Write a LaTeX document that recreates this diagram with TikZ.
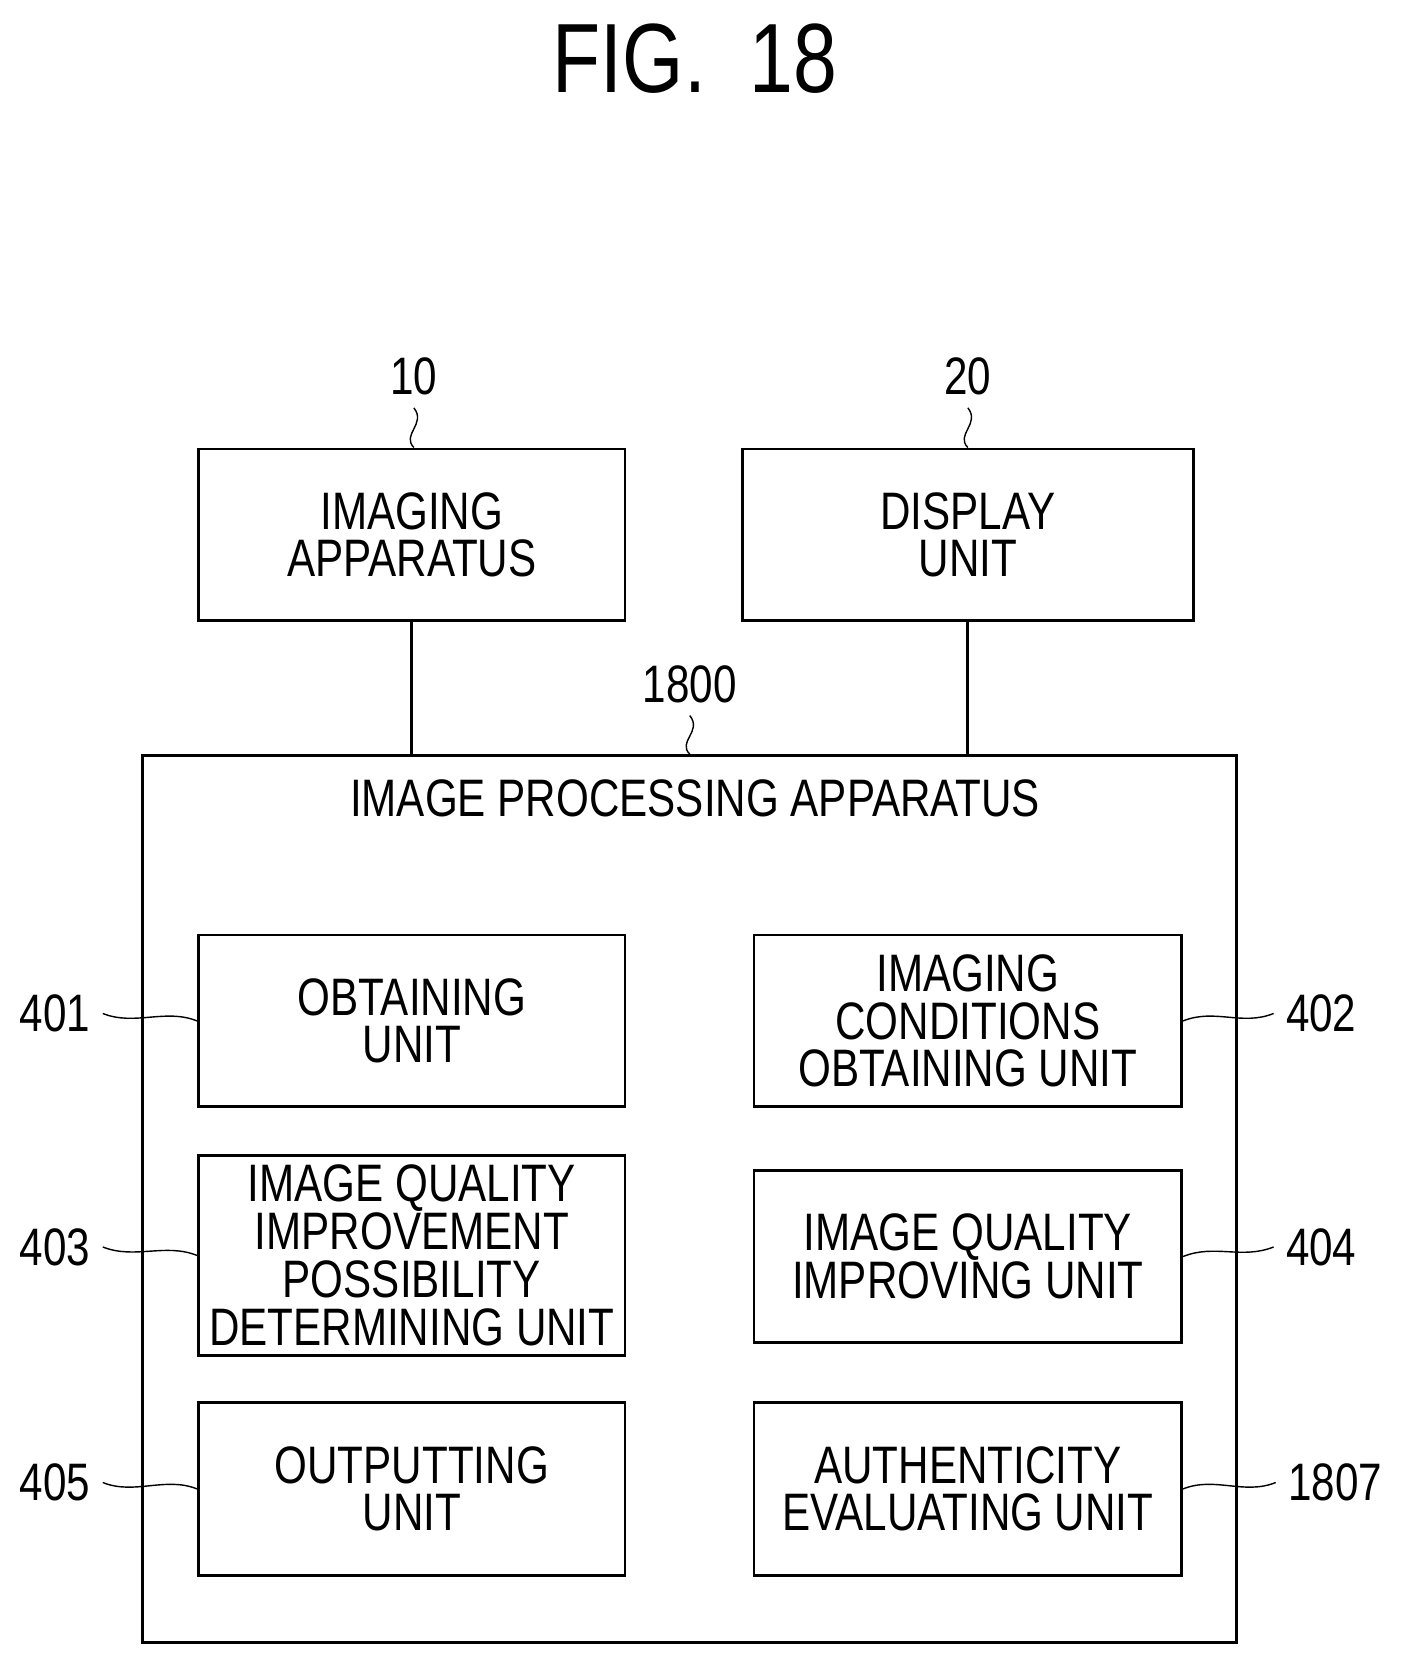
\documentclass[tikz,border=0pt]{standalone}
\usepackage{fontspec}
\setmainfont{Liberation Sans}[FakeStretch=0.8]
\usetikzlibrary{positioning}
\begin{document}
\begin{tikzpicture}[x=0.1061mm,y=-0.1061mm]
\tikzstyle{unit}=[rectangle, draw=black, thick, align=center, inner sep=0pt, font=\fontsize{15}{13.6}\selectfont]
\tikzstyle{ref}=[font=\fontsize{15}{15}\selectfont]
\tikzstyle{lead}=[thin]
\useasboundingbox (0,0) rectangle (1322,1568);
  % title
  \node[font=\fontsize{28}{28}\selectfont] (fig) at (655,55) {FIG.\ \ 18};
  % external units
  \node[unit, minimum width=402*0.1061mm, minimum height=162*0.1061mm] (imaging) at (388,504) {IMAGING\\APPARATUS};
  \node[unit, minimum width=425*0.1061mm, minimum height=162*0.1061mm] (display) at (912,504) {DISPLAY\\UNIT};
  % image processing apparatus
  \node[unit, minimum width=1031*0.1061mm, minimum height=836*0.1061mm] (ipa) at (650,1130) {};
  \node[unit, draw=none] (ipatitle) at (655,752) {IMAGE PROCESSING APPARATUS};
  % inner units
  \node[unit, minimum width=402*0.1061mm, minimum height=162*0.1061mm] (obtain) at (388,962) {OBTAINING\\UNIT};
  \node[unit, minimum width=402*0.1061mm, minimum height=189*0.1061mm] (possib) at (388,1183) {IMAGE QUALITY\\IMPROVEMENT\\POSSIBILITY\\DETERMINING UNIT};
  \node[unit, minimum width=402*0.1061mm, minimum height=163*0.1061mm] (output) at (388,1403) {OUTPUTTING\\UNIT};
  \node[unit, minimum width=403*0.1061mm, minimum height=162*0.1061mm] (cond) at (912,962) {IMAGING\\CONDITIONS\\OBTAINING UNIT};
  \node[unit, minimum width=403*0.1061mm, minimum height=162*0.1061mm] (improve) at (912,1184) {IMAGE QUALITY\\IMPROVING UNIT};
  \node[unit, minimum width=403*0.1061mm, minimum height=163*0.1061mm] (auth) at (912,1403) {AUTHENTICITY\\EVALUATING UNIT};
  % reference numerals
  \node[ref] (r10) at (390,355) {10};
  \node[ref] (r20) at (912,355) {20};
  \node[ref] (r1800) at (650,645) {1800};
  \node[ref] (r401) at (52,955) {401};
  \node[ref] (r403) at (52,1175) {403};
  \node[ref] (r405) at (52,1397) {405};
  \node[ref] (r402) at (1245,955) {402};
  \node[ref] (r404) at (1245,1175) {404};
  \node[ref] (r1807) at (1258,1397) {1807};
  % connections
  \draw[thick] (imaging.south) -- (imaging.south |- ipa.north);
  \draw[thick] (display.south) -- (display.south |- ipa.north);
  % lead lines
  \draw[lead] (r10.south) .. controls +(12,15) and +(-12,-12) .. (imaging.north -| r10.south);
  \draw[lead] (r20.south) .. controls +(12,15) and +(-12,-12) .. (display.north -| r20.south);
  \draw[lead] (r1800.south) .. controls +(12,15) and +(-12,-12) .. (ipa.north -| r1800.south);
  \draw[lead] (r401.east) .. controls +(30,12) and +(-30,-12) .. (obtain.west);
  \draw[lead] (r403.east) .. controls +(30,12) and +(-30,-12) .. (possib.west);
  \draw[lead] (r405.east) .. controls +(30,12) and +(-30,-12) .. (output.west);
  \draw[lead] (r402.west) .. controls +(-30,12) and +(30,-12) .. (cond.east);
  \draw[lead] (r404.west) .. controls +(-30,12) and +(30,-12) .. (improve.east);
  \draw[lead] (r1807.west) .. controls +(-30,12) and +(30,-12) .. (auth.east);
\end{tikzpicture}
\end{document}
